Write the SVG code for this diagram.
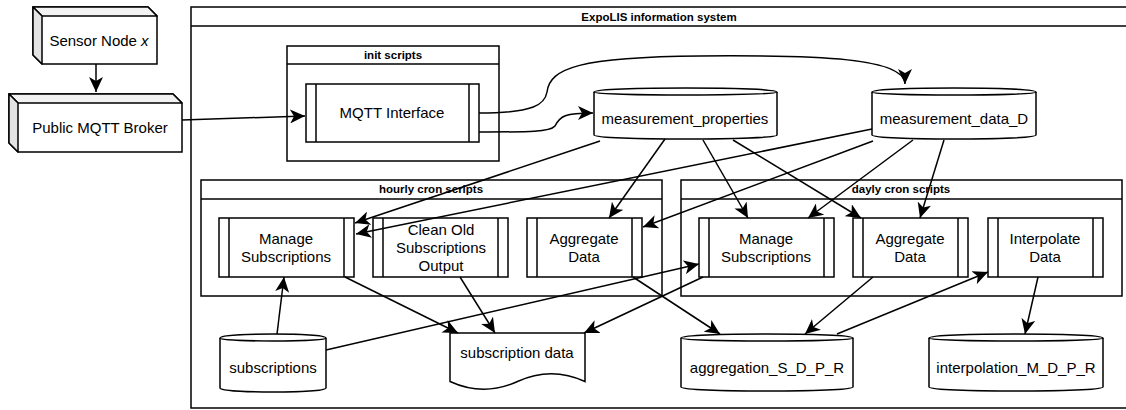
<svg xmlns="http://www.w3.org/2000/svg" width="1126" height="410" viewBox="0 0 1126 410">
<style>
.s{fill:#fff;stroke:#000;stroke-width:1.5}
.ln{fill:none;stroke:#000;stroke-width:1.5}
.t{font-family:"Liberation Sans",Arial,Helvetica,sans-serif;font-size:15px;fill:#000;text-anchor:middle}
.h{font-family:"Liberation Sans",Arial,Helvetica,sans-serif;font-size:11.5px;font-weight:bold;fill:#000;text-anchor:middle}
.e{fill:none;stroke:#000;stroke-width:1.5;marker-end:url(#arr)}
</style>
<defs>
<marker id="arr" markerUnits="userSpaceOnUse" viewBox="0 0 15 14" refX="15" refY="7" markerWidth="15" markerHeight="14" orient="auto">
<path d="M15,7 L0,0 L4,7 L0,14 Z" fill="#000"/>
</marker>
</defs>
<rect width="1126" height="410" fill="#fff"/>

<g id="expolis">
<rect class="s" x="191" y="7" width="936" height="401"/>
<line class="ln" x1="191" y1="26" x2="1127" y2="26"/>
<text class="h" x="659" y="21">ExpoLIS information system</text>
</g>

<g id="init-scripts">
<rect class="s" x="287" y="46" width="212" height="115"/>
<line class="ln" x1="287" y1="64" x2="499" y2="64"/>
<text class="h" x="393" y="59">init scripts</text>
</g>

<g id="hourly-cron">
<rect class="s" x="201" y="180" width="461" height="116"/>
<line class="ln" x1="201" y1="199" x2="662" y2="199"/>
<text class="h" x="431" y="193">hourly cron scripts</text>
</g>

<g id="daily-cron">
<rect class="s" x="681" y="180" width="441" height="116"/>
<line class="ln" x1="681" y1="199" x2="1122" y2="199"/>
<text class="h" x="901" y="193">dayly cron scripts</text>
</g>

<g id="sensor-node">
<path class="s" d="M33,7 L148,7 L157,16 L157,64 L42,64 L33,55 Z"/>
<path d="M33,7 L148,7 L157,16 L42,16 Z" fill="#f2f2f2" stroke="#000" stroke-width="1.5" stroke-linejoin="round"/>
<path d="M33,7 L42,16 L42,64 L33,55 Z" fill="#e3e3e3" stroke="#000" stroke-width="1.5" stroke-linejoin="round"/>
<text class="t" x="99" y="46">Sensor Node <tspan font-style="italic">x</tspan></text>
</g>

<g id="mqtt-broker">
<path class="s" d="M9,94 L173,94 L182,103 L182,152 L18,152 L9,143 Z"/>
<path d="M9,94 L173,94 L182,103 L18,103 Z" fill="#f2f2f2" stroke="#000" stroke-width="1.5" stroke-linejoin="round"/>
<path d="M9,94 L18,103 L18,152 L9,143 Z" fill="#e3e3e3" stroke="#000" stroke-width="1.5" stroke-linejoin="round"/>
<text class="t" x="100" y="133">Public MQTT Broker</text>
</g>

<g id="mqtt-interface">
<rect class="s" x="306" y="84" width="173" height="58"/>
<line class="ln" x1="316" y1="84" x2="316" y2="142"/>
<line class="ln" x1="469" y1="84" x2="469" y2="142"/>
<text class="t" x="392" y="118">MQTT Interface</text>
</g>

<g id="measurement-properties">
<path class="s" d="M594,92 C594,86.67 777,86.67 777,92 L777,135 C777,140.33 594,140.33 594,135 Z"/>
<path class="ln" d="M594,92 C594,96 777,96 777,92"/>
<text class="t" x="685" y="124">measurement_properties</text>
</g>

<g id="measurement-data">
<path class="s" d="M872,92 C872,86.67 1036,86.67 1036,92 L1036,135 C1036,140.33 872,140.33 872,135 Z"/>
<path class="ln" d="M872,92 C872,96 1036,96 1036,92"/>
<text class="t" x="954" y="124">measurement_data_D</text>
</g>

<g id="hourly-manage-subscriptions">
<rect class="s" x="219" y="218" width="135" height="59"/>
<line class="ln" x1="229" y1="218" x2="229" y2="277"/>
<line class="ln" x1="344" y1="218" x2="344" y2="277"/>
<text class="t" x="286" y="244">Manage</text>
<text class="t" x="286" y="262">Subscriptions</text>
</g>

<g id="hourly-clean-old">
<rect class="s" x="373" y="218" width="135" height="59"/>
<line class="ln" x1="383" y1="218" x2="383" y2="277"/>
<line class="ln" x1="498" y1="218" x2="498" y2="277"/>
<text class="t" x="441" y="235">Clean Old</text>
<text class="t" x="441" y="253">Subscriptions</text>
<text class="t" x="441" y="271">Output</text>
</g>

<g id="hourly-aggregate">
<rect class="s" x="527" y="218" width="115" height="59"/>
<line class="ln" x1="537" y1="218" x2="537" y2="277"/>
<line class="ln" x1="632" y1="218" x2="632" y2="277"/>
<text class="t" x="584" y="244">Aggregate</text>
<text class="t" x="584" y="262">Data</text>
</g>

<g id="daily-manage-subscriptions">
<rect class="s" x="699" y="218" width="135" height="59"/>
<line class="ln" x1="709" y1="218" x2="709" y2="277"/>
<line class="ln" x1="824" y1="218" x2="824" y2="277"/>
<text class="t" x="766" y="244">Manage</text>
<text class="t" x="766" y="262">Subscriptions</text>
</g>

<g id="daily-aggregate">
<rect class="s" x="853" y="218" width="115" height="59"/>
<line class="ln" x1="863" y1="218" x2="863" y2="277"/>
<line class="ln" x1="958" y1="218" x2="958" y2="277"/>
<text class="t" x="910" y="244">Aggregate</text>
<text class="t" x="910" y="262">Data</text>
</g>

<g id="daily-interpolate">
<rect class="s" x="988" y="218" width="115" height="59"/>
<line class="ln" x1="998" y1="218" x2="998" y2="277"/>
<line class="ln" x1="1093" y1="218" x2="1093" y2="277"/>
<text class="t" x="1045" y="244">Interpolate</text>
<text class="t" x="1045" y="262">Data</text>
</g>

<g id="subscriptions">
<path class="s" d="M220,338 C220,332.67 326,332.67 326,338 L326,388 C326,393.33 220,393.33 220,388 Z"/>
<path class="ln" d="M220,338 C220,342 326,342 326,338"/>
<text class="t" x="273" y="373">subscriptions</text>
</g>

<g id="subscription-data">
<path class="s" d="M450,333 L585,333 L585,381.5 Q551.25,366 517.5,381.5 Q483.75,397 450,381.5 Z"/>
<text class="t" x="517" y="358">subscription data</text>
</g>

<g id="aggregation">
<path class="s" d="M681,338 C681,332.67 853,332.67 853,338 L853,387 C853,392.33 681,392.33 681,387 Z"/>
<path class="ln" d="M681,338 C681,342 853,342 853,338"/>
<text class="t" x="767" y="373">aggregation_S_D_P_R</text>
</g>

<g id="interpolation">
<path class="s" d="M929,338 C929,332.67 1103,332.67 1103,338 L1103,387 C1103,392.33 929,392.33 929,387 Z"/>
<path class="ln" d="M929,338 C929,342 1103,342 1103,338"/>
<text class="t" x="1016" y="373">interpolation_M_D_P_R</text>
</g>

<g id="connectors">
<path class="e" d="M96,64 L96,92"/>
<path class="e" d="M182,120 L305,116"/>
<path class="e" d="M479,113 C535,113 545,104 547,92 C550,68 580,57 700,56 C820,55 905,58 905,84"/>
<path class="e" d="M479,132 C530,132 550,132 555,126 C560,116 565,113 593,113"/>
<path class="e" d="M600,141 L355,223"/>
<path class="e" d="M872,129 L356,234"/>
<path class="e" d="M665,139 L609,218"/>
<path class="e" d="M873,141 L643,227"/>
<path class="e" d="M703,140 L748,218"/>
<path class="e" d="M733,140 L861,218"/>
<path class="e" d="M913,140 L808,218"/>
<path class="e" d="M944,140 L920,218"/>
<path class="e" d="M277,334 L284,277"/>
<path class="e" d="M326,350 L699,264"/>
<path class="e" d="M345,277 L458,333"/>
<path class="e" d="M460,277 L495,333"/>
<path class="e" d="M703,277 L584,333"/>
<path class="e" d="M633,277 L720,334"/>
<path class="e" d="M873,277 L805,334"/>
<path class="e" d="M837,334 L988,272"/>
<path class="e" d="M1038,277 L1025,334"/>
</g>
</svg>
